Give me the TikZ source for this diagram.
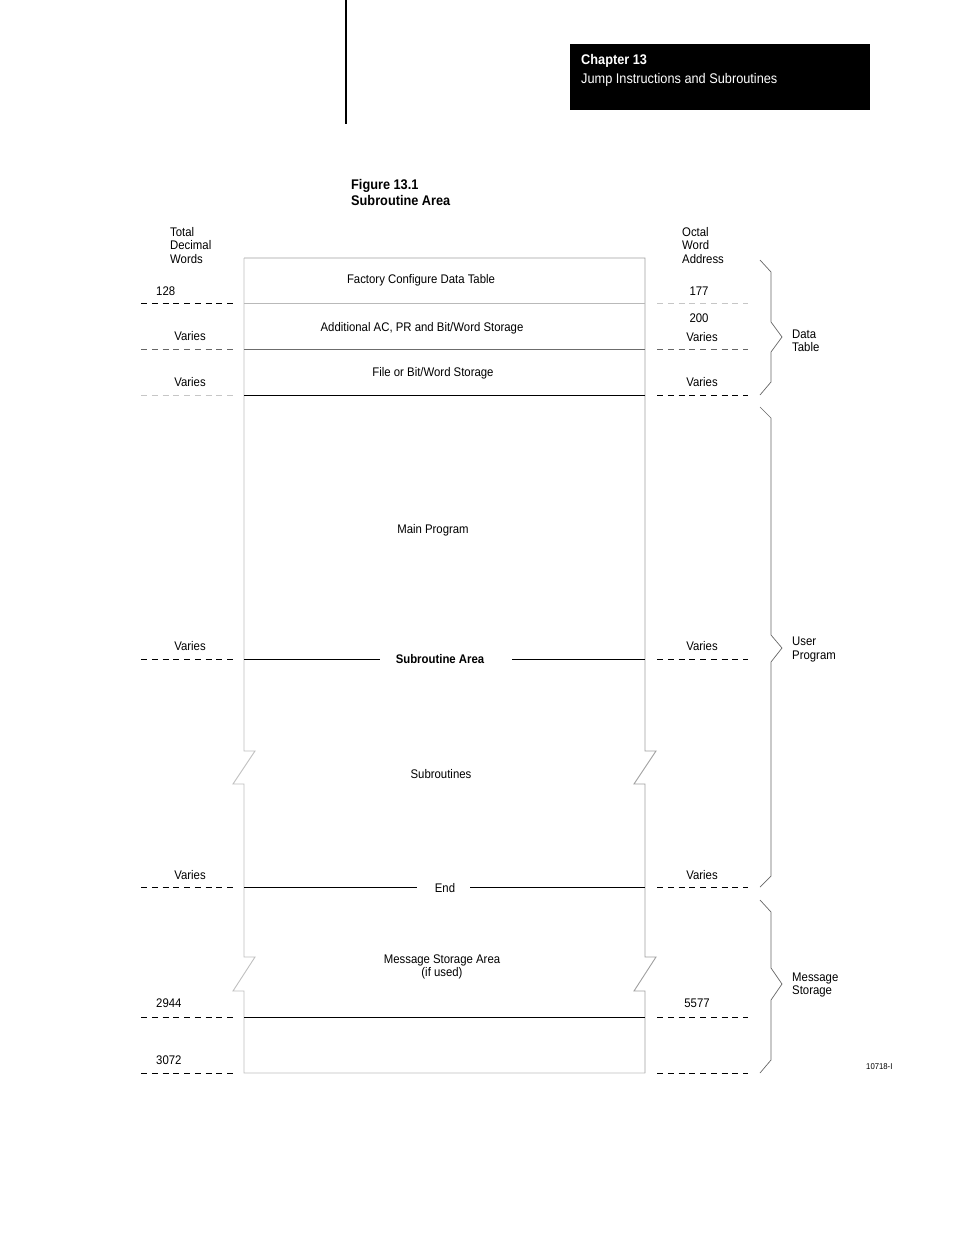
\documentclass[tikz,border=0pt]{standalone}
\usepackage{fontspec}
\setmainfont{Liberation Sans}[FakeStretch=0.91]
\usepackage{tikz}

\begin{document}
\begin{tikzpicture}[x=1pt,y=-1pt,
  lbl/.style={font=\fontsize{12.5}{13.5}\selectfont},
  ttl/.style={font=\bfseries\fontsize{14}{16}\selectfont},
  ruler/.style={dash pattern=on 6pt off 4.75pt,line width=0.9pt},
  brace/.style={gray!80!black,line width=0.7pt}]
\tikzstyle{every node}+=[inner sep=0pt]
\useasboundingbox (0,0) rectangle (954,1235);
% page header
\draw [black,line width=2pt] (346,0) -- (346,124);
\fill [black] (570,44) rectangle (870,110);
\node [ttl,white,anchor=west] (chap) at (581,61) {Chapter 13};
\node [lbl,font=\fontsize{14}{16}\selectfont,white,anchor=west] (jump) at (581,79.5) {Jump Instructions and Subroutines};
\node [ttl,anchor=west,align=left,font=\bfseries\fontsize{14}{15.5}\selectfont] (fig) at (351,192.5) {Figure 13.1\\Subroutine Area};
% column headings
\node [lbl,anchor=west,align=left] (tdw) at (170,245.5) {Total\\Decimal\\Words};
\node [lbl,anchor=west,align=left] (owa) at (682,245.5) {Octal\\Word\\Address};
% memory box
\draw [gray!50,line width=0.9pt] (244,258) -- (244,751) -- (255,751) -- (233,784) -- (244,784)
  -- (244,957) -- (255,957) -- (233,991) -- (244,991) -- (244,1073) -- (645,1073);
\draw [gray!75,line width=0.9pt] (244,258) -- (645,258) -- (645,751) -- (656,751) -- (634,784) -- (645,784)
  -- (645,957) -- (656,957) -- (634,991) -- (645,991) -- (645,1073);
\draw [gray!55,line width=0.8pt] (244,303) -- (645,303);
\draw [gray!85!black,line width=0.8pt] (244,349) -- (645,349);
\draw [black,line width=0.9pt] (244,395) -- (645,395);
\draw [black,line width=0.9pt] (244,1017) -- (645,1017);
\node [lbl] (fcdt) at (421,280) {Factory Configure Data Table};
\node [lbl] (acpr) at (422,328) {Additional AC, PR and Bit/Word Storage};
\node [lbl] (fbw) at (433,373) {File or Bit/Word Storage};
\node [lbl] (main) at (433,530) {Main Program};
\node [lbl,font=\bfseries\fontsize{12.5}{13.5}\selectfont] (sra) at (440,659) {Subroutine Area};
\draw [black,line width=0.9pt] (244,659) -- ([xshift=-16pt]sra.west |- 0,659);
\draw [black,line width=0.9pt] ([xshift=28pt]sra.east |- 0,659) -- (645,659);
\node [lbl] (subs) at (441,774) {Subroutines};
\node [lbl] (end) at (445,888) {End};
\draw [black,line width=0.9pt] (244,887) -- ([xshift=-18pt]end.west |- 0,887);
\draw [black,line width=0.9pt] ([xshift=15pt]end.east |- 0,887) -- (645,887);
\node [lbl,align=center] (msa) at (442,967) {Message Storage Area\\(if used)};
% left rulers
\draw [ruler,black] (141,303) -- (233,303);
\draw [ruler,gray!80!black] (141,349) -- (233,349);
\draw [ruler,gray!45] (141,395) -- (233,395);
\draw [ruler,black] (141,659) -- (233,659);
\draw [ruler,black] (141,887) -- (233,887);
\draw [ruler,black] (141,1017) -- (233,1017);
\draw [ruler,black] (141,1073) -- (233,1073);
\node [lbl,anchor=west] (l128) at (156,291) {128};
\node [lbl] (lv1) at (190,336) {Varies};
\node [lbl] (lv2) at (190,382) {Varies};
\node [lbl] (lv3) at (190,646) {Varies};
\node [lbl] (lv4) at (190,875) {Varies};
\node [lbl,anchor=west] (l2944) at (156,1003) {2944};
\node [lbl,anchor=west] (l3072) at (156,1060) {3072};
% right rulers
\draw [ruler,gray!45] (657,303) -- (748,303);
\draw [ruler,gray!80!black] (657,349) -- (748,349);
\draw [ruler,black] (657,395) -- (748,395);
\draw [ruler,black] (657,659) -- (748,659);
\draw [ruler,black] (657,887) -- (748,887);
\draw [ruler,black] (657,1017) -- (748,1017);
\draw [ruler,black] (657,1073) -- (748,1073);
\node [lbl] (r177) at (699,291) {177};
\node [lbl] (r200) at (699,318) {200};
\node [lbl] (rv1) at (702,337) {Varies};
\node [lbl] (rv2) at (702,382) {Varies};
\node [lbl] (rv3) at (702,646) {Varies};
\node [lbl] (rv4) at (702,875) {Varies};
\node [lbl] (r5577) at (697,1003) {5577};
% braces
\draw [brace] (760,260) -- (771,272) -- (771,322) -- (782,337) -- (771,352) -- (771,382) -- (760,395);
\draw [brace] (760,407) -- (771,418) -- (771,635) -- (782,648) -- (771,662) -- (771,876) -- (760,887);
\draw [brace] (760,900) -- (771,912) -- (771,968) -- (782,984) -- (771,1000) -- (771,1060) -- (760,1073);
\node [lbl,anchor=west,align=left] (dt) at (792,341) {Data\\Table};
\node [lbl,anchor=west,align=left] (up) at (792,649.5) {User\\Program};
\node [lbl,anchor=west,align=left] (ms) at (792,985) {Message\\Storage};
\node [font=\fontsize{8.5}{9}\selectfont,anchor=west] (fignum) at (866,1067) {10718-I};
\end{tikzpicture}
\end{document}
